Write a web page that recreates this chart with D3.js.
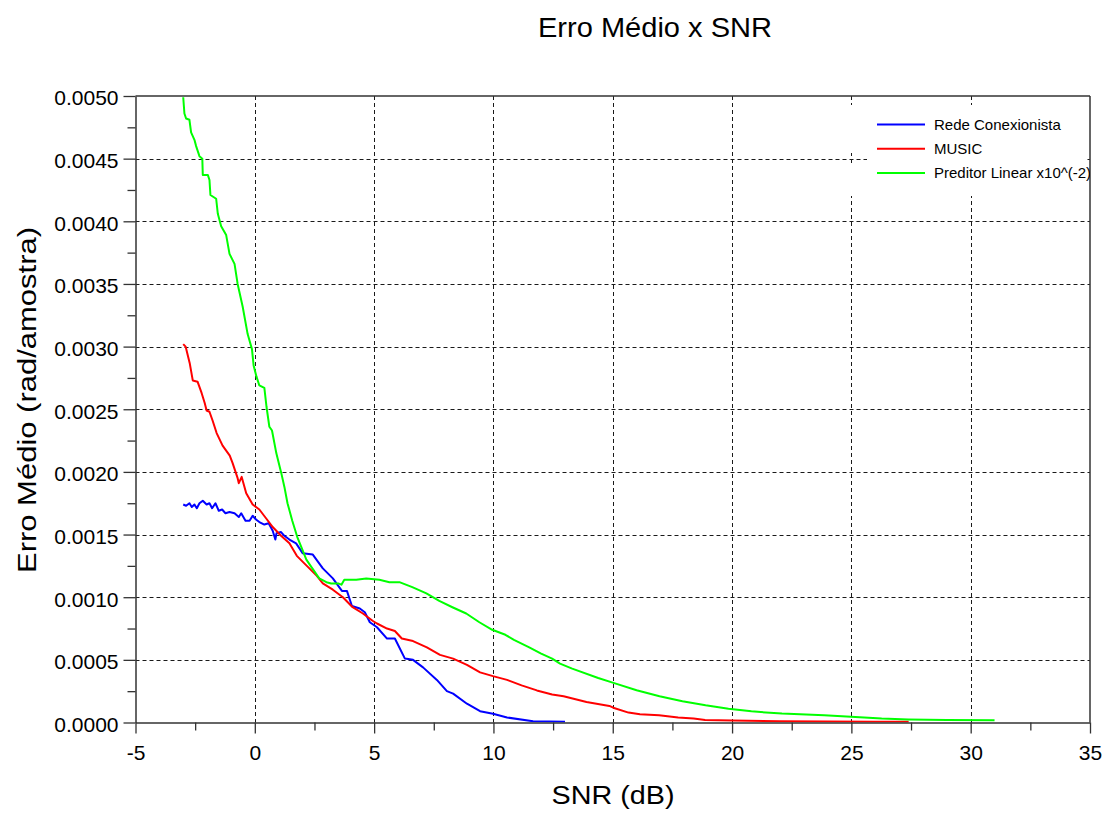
<!DOCTYPE html>
<html><head><meta charset="utf-8">
<script src="https://cdn.jsdelivr.net/npm/d3@7/dist/d3.min.js"></script>
<style>
body{margin:0;background:#fff;}
text{font-family:"Liberation Sans",Arial,Helvetica,sans-serif;fill:#000;}
</style>
</head><body>
<svg id="c" width="1107" height="814"></svg>
<script>
// ---------- data ----------
const xTicks = [-5, 0, 5, 10, 15, 20, 25, 30, 35];
const xMinorTicks = [-2.5, 2.5, 7.5, 12.5, 17.5, 22.5, 27.5, 32.5];
const yTicks = [0, 0.0005, 0.001, 0.0015, 0.002, 0.0025, 0.003, 0.0035, 0.004, 0.0045, 0.005];
const yMinorTicks = [0.00025, 0.00075, 0.00125, 0.00175, 0.00225, 0.00275, 0.00325, 0.00375, 0.00425, 0.00475];
const titleText = "Erro Médio x SNR";
const xLabel = "SNR (dB)";
const yLabel = "Erro Médio (rad/amostra)";
const seriesNames = ["Rede Conexionista", "MUSIC", "Preditor Linear x10^(-2)"];
const seriesColors = ["#0000ff", "#ff0000", "#00ff00"];

const rede = [[-3.0,0.00174],[-2.88,0.00173],[-2.74,0.00175],[-2.64,0.00172],[-2.53,0.00174],[-2.43,0.00171],[-2.32,0.00175],[-2.18,0.00177],[-2.02,0.00174],[-1.9,0.00175],[-1.79,0.00171],[-1.65,0.00175],[-1.51,0.00169],[-1.37,0.00170],[-1.23,0.00167],[-1.06,0.00168],[-0.85,0.00167],[-0.67,0.00164],[-0.57,0.00167],[-0.39,0.00161],[-0.22,0.00161],[-0.09,0.00165],[0.05,0.00162],[0.19,0.0016],[0.4,0.00158],[0.58,0.00159],[0.75,0.00153],[0.86,0.00146],[0.91,0.00151],[1.1,0.00152],[1.24,0.00149],[1.45,0.00146],[1.73,0.00143],[2.01,0.00135],[2.43,0.00134],[2.85,0.00123],[3.27,0.00115],[3.65,0.00105],[3.86,0.00105],[4.07,0.00093],[4.4,0.00091],[4.61,0.00088],[4.82,0.0008],[5.12,0.00076],[5.54,0.00067],[5.87,0.00067],[6.29,0.00051],[6.63,0.0005],[7.05,0.00044],[7.63,0.00034],[8.05,0.00025],[8.31,0.00023],[8.89,0.00015],[9.44,0.00009],[9.98,0.00007],[10.57,0.00004],[11.66,0.00001],[13.0,0.000005]];

const music = [[-3.0,0.00302],[-2.9,0.003],[-2.73,0.00287],[-2.6,0.00273],[-2.4,0.00272],[-2.23,0.00263],[-2.1,0.00255],[-2.02,0.00249],[-1.9,0.00248],[-1.77,0.00241],[-1.6,0.00231],[-1.35,0.00221],[-1.05,0.00213],[-0.93,0.00207],[-0.72,0.00195],[-0.67,0.00191],[-0.55,0.00196],[-0.36,0.00183],[-0.09,0.00174],[0.19,0.0017],[0.47,0.00163],[0.75,0.00156],[1.1,0.00149],[1.45,0.00143],[1.76,0.00133],[2.18,0.00125],[2.6,0.00117],[2.85,0.00111],[3.27,0.00106],[3.69,0.001],[4.1,0.00092],[4.53,0.00087],[4.95,0.00081],[5.12,0.00079],[5.54,0.00075],[5.87,0.00073],[6.16,0.00067],[6.63,0.00065],[7.21,0.0006],[7.76,0.00054],[8.31,0.00051],[8.89,0.00046],[9.44,0.0004],[9.98,0.00037],[10.57,0.00034],[11.18,0.000296],[11.82,0.000256],[12.46,0.000224],[12.94,0.00021],[13.9,0.000163],[14.86,0.000132],[15.02,0.000118],[15.66,0.000079],[16.14,0.000066],[16.94,0.000058],[17.74,0.000039],[18.39,0.000031],[18.87,0.00002],[20.0,0.000016],[22.0,0.00001],[24.0,0.000008],[26.0,0.000006],[27.4,0.000005]];

const preditor = [[-3.0,0.00499],[-2.95,0.00486],[-2.88,0.00482],[-2.74,0.00481],[-2.67,0.00471],[-2.53,0.00465],[-2.46,0.0046],[-2.32,0.00452],[-2.2,0.0045],[-2.18,0.00437],[-1.97,0.00437],[-1.9,0.00433],[-1.86,0.00421],[-1.62,0.00418],[-1.55,0.00406],[-1.41,0.00396],[-1.2,0.00389],[-1.06,0.00374],[-0.85,0.00366],[-0.72,0.0035],[-0.51,0.00332],[-0.3,0.0031],[-0.12,0.00298],[-0.05,0.00285],[0.07,0.00276],[0.19,0.00269],[0.4,0.00267],[0.49,0.00252],[0.61,0.00236],[0.72,0.00233],[0.9,0.00215],[1.11,0.00199],[1.24,0.00188],[1.37,0.00175],[1.57,0.00161],[1.78,0.00148],[1.95,0.0014],[2.16,0.0013],[2.41,0.00123],[2.7,0.00115],[3.0,0.00112],[3.2,0.00111],[3.5,0.00111],[3.63,0.0011],[3.75,0.00114],[4.25,0.00114],[4.67,0.00115],[5.22,0.00114],[5.64,0.00112],[6.06,0.00112],[6.6,0.00108],[7.19,0.00103],[7.73,0.00097],[8.28,0.00092],[8.86,0.00087],[9.41,0.0008],[9.95,0.00074],[10.5,0.0007],[10.86,0.00066],[11.5,0.0006],[12.0,0.00055],[12.46,0.00051],[12.79,0.00047],[13.3,0.00043],[14.39,0.000355],[15.03,0.000316],[16.0,0.000258],[16.96,0.00021],[17.92,0.00017],[18.89,0.000137],[19.85,0.00011],[20.81,0.000089],[22.09,0.000071],[23.86,0.000058],[24.98,0.000045],[26.27,0.000031],[27.39,0.000024],[29.0,0.00002],[31.0,0.000018]];

const seriesData = [rede, music, preditor];

// ---------- layout ----------
const L = 135.5, R = 1090, T = 96, B = 722.5;
const svg = d3.select("#c");
const x = d3.scaleLinear().domain([-5, 35]).range([L, R]);
const y = d3.scaleLinear().domain([0, 0.005]).range([B, T]);

svg.append("defs").append("clipPath").attr("id", "plotclip")
  .append("rect").attr("x", L).attr("y", T).attr("width", R - L).attr("height", B - T);

// grid
const grid = svg.append("g").attr("stroke", "#1a1a1a").attr("stroke-width", 1).attr("stroke-dasharray", "4,3");
grid.selectAll("line.v").data(xTicks.filter(d => d > -5 && d < 35)).join("line")
  .attr("x1", d => Math.round(x(d)) + 0.5).attr("x2", d => Math.round(x(d)) + 0.5)
  .attr("y1", T).attr("y2", B);
grid.selectAll("line.h").data(yTicks.filter(d => d > 0 && d < 0.005)).join("line")
  .attr("x1", L).attr("x2", R)
  .attr("y1", d => Math.round(y(d)) + 0.5).attr("y2", d => Math.round(y(d)) + 0.5);

// legend background (covers grid)
const lg = svg.append("g");
lg.append("rect").attr("x", 867).attr("y", 105).attr("width", 218).attr("height", 91).attr("fill", "#fff");
lg.append("rect").attr("x", 846).attr("y", 105).attr("width", 22).attr("height", 48).attr("fill", "#fff");
lg.append("rect").attr("x", 846).attr("y", 164).attr("width", 22).attr("height", 32).attr("fill", "#fff");

// series
const line = d3.line().x(d => x(d[0])).y(d => y(d[1]));
svg.append("g").attr("clip-path", "url(#plotclip)")
  .selectAll("path").data(seriesData).join("path")
  .attr("d", line).attr("fill", "none")
  .attr("stroke", (d, i) => seriesColors[i]).attr("stroke-width", 2)
  .attr("stroke-linejoin", "round");

// frame top/right
svg.append("line").attr("x1", L).attr("x2", R).attr("y1", T).attr("y2", T).attr("stroke", "#333").attr("stroke-width", 1.5);
svg.append("line").attr("x1", R).attr("x2", R).attr("y1", T).attr("y2", B).attr("stroke", "#333").attr("stroke-width", 1.5);

// axes
const fmtY = d3.format(".4f");
const gx = svg.append("g").attr("transform", `translate(0,${B})`)
  .call(d3.axisBottom(x).tickValues(xTicks).tickFormat(d => String(d)).tickSize(11).tickSizeOuter(0).tickPadding(12));
svg.append("g").attr("transform", `translate(0,${B})`)
  .call(d3.axisBottom(x).tickValues(xMinorTicks).tickFormat("").tickSize(8).tickSizeOuter(0))
  .select(".domain").remove();
const gy = svg.append("g").attr("transform", `translate(${L},0)`)
  .call(d3.axisLeft(y).tickValues(yTicks).tickFormat(fmtY).tickSize(12).tickSizeOuter(0).tickPadding(5));
svg.append("g").attr("transform", `translate(${L},0)`)
  .call(d3.axisLeft(y).tickValues(yMinorTicks).tickFormat("").tickSize(8).tickSizeOuter(0))
  .select(".domain").remove();
svg.selectAll(".domain").attr("stroke", "#333").attr("stroke-width", 1.5);
svg.selectAll(".tick line").attr("stroke", "#333").attr("stroke-width", 1.3);
gx.selectAll("text").attr("font-size", 21).attr("font-family", "Liberation Sans, Arial, sans-serif").attr("fill", "#000");
gy.selectAll("text").attr("font-size", 21).attr("font-family", "Liberation Sans, Arial, sans-serif").attr("fill", "#000").attr("dy", "0.42em");

// legend
const leg = svg.append("g").attr("clip-path", "url(#plotclip)");
seriesNames.forEach((n, i) => {
  const ly = 124.5 + i * 24.2;
  leg.append("line").attr("x1", 877).attr("x2", 925).attr("y1", ly).attr("y2", ly)
    .attr("stroke", seriesColors[i]).attr("stroke-width", 2);
  leg.append("text").attr("x", 934).attr("y", ly + 5).attr("font-size", 15).text(n);
});

// titles
svg.append("text").attr("x", 655).attr("y", 36.5).attr("text-anchor", "middle")
  .attr("font-size", 27).attr("textLength", 234).attr("lengthAdjust", "spacingAndGlyphs").text(titleText);
svg.append("text").attr("x", 613).attr("y", 804).attr("text-anchor", "middle")
  .attr("font-size", 25).attr("textLength", 123).attr("lengthAdjust", "spacingAndGlyphs").text(xLabel);
svg.append("text").attr("transform", "translate(36,400) rotate(-90)").attr("text-anchor", "middle")
  .attr("font-size", 26).attr("textLength", 346).attr("lengthAdjust", "spacingAndGlyphs").text(yLabel);
</script>
</body></html>
